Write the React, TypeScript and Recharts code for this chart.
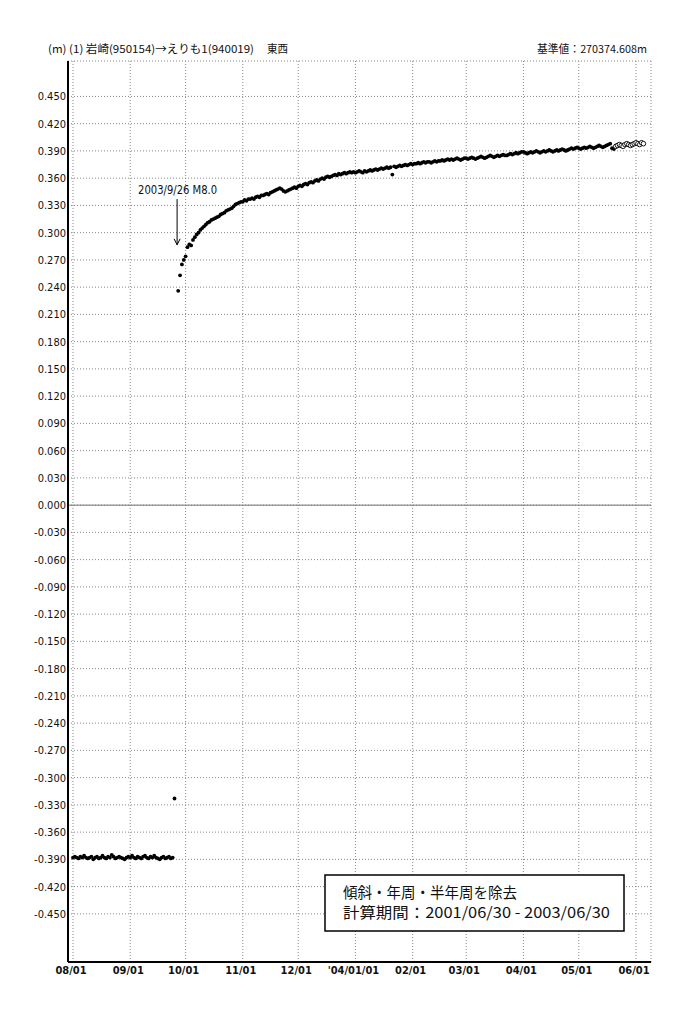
import React from "react";
import {
  ScatterChart,
  Scatter,
  XAxis,
  YAxis,
  CartesianGrid,
  ReferenceLine,
  ReferenceDot,
} from "recharts";

// days are counted from 2003-08-01
const BASE = Date.UTC(2003, 7, 1);
const DAY = 86400000;

const TICK_DATES = [
  "2003-08-01", "2003-09-01", "2003-10-01", "2003-11-01", "2003-12-01", "2004-01-01",
  "2004-02-01", "2004-03-01", "2004-04-01", "2004-05-01", "2004-06-01",
];
const TICK_LABELS = ["08/01", "09/01", "10/01", "11/01", "12/01", "'04/01/01", "02/01", "03/01", "04/01", "05/01", "06/01"];

// before the quake, Aug 1 - Sep 24
const PRE_START = 0;
const PRE_VALUES = [
  -0.388, -0.387, -0.388, -0.389, -0.387, -0.388, -0.386, -0.388, -0.389, -0.388,
  -0.387, -0.39, -0.388, -0.387, -0.389, -0.388, -0.386, -0.388, -0.389, -0.387,
  -0.388, -0.385, -0.387, -0.389, -0.388, -0.387, -0.388, -0.389, -0.39, -0.388,
  -0.387, -0.388, -0.386, -0.388, -0.389, -0.387, -0.388, -0.389, -0.387, -0.386,
  -0.388, -0.389, -0.387, -0.388, -0.386, -0.388, -0.389, -0.39, -0.388, -0.387,
  -0.389, -0.388, -0.387, -0.389, -0.388,
];

const JUMP_DAY = 55;
const JUMP_VALUE = -0.323;

// after the quake (filled dots)
const POST_START = 57;
const POST_VALUES = [
  0.236, 0.253, 0.265, 0.27, 0.274, 0.284, 0.287, 0.286, 0.292, 0.295,
  0.298, 0.3, 0.303, 0.305, 0.307, 0.309, 0.311, 0.312, 0.314, 0.315,
  0.316, 0.317, 0.318, 0.32, 0.321, 0.322, 0.324, 0.325, 0.326, 0.327,
  0.329, 0.331, 0.332, 0.333, 0.334, 0.334, 0.336, 0.335, 0.337, 0.337,
  0.338, 0.337, 0.339, 0.34, 0.339, 0.341, 0.341, 0.342, 0.343, 0.342,
  0.344, 0.345, 0.346, 0.347, 0.348, 0.349, 0.348, 0.346, 0.345, 0.346,
  0.347, 0.348, 0.349, 0.35, 0.349, 0.351, 0.352, 0.351, 0.353, 0.354,
  0.353, 0.355, 0.356, 0.355, 0.357, 0.358, 0.357, 0.359, 0.36, 0.359,
  0.361, 0.362, 0.361, 0.362, 0.363, 0.364, 0.363, 0.365, 0.364, 0.365,
  0.366, 0.365, 0.366, 0.367, 0.366, 0.367, 0.366, 0.367, 0.368, 0.367,
  0.366, 0.368, 0.367, 0.368, 0.369, 0.368, 0.369, 0.37, 0.369, 0.37,
  0.371, 0.37, 0.371, 0.372, 0.371, 0.372, 0.364, 0.373, 0.372, 0.373,
  0.374, 0.373, 0.374, 0.375, 0.374, 0.375, 0.376, 0.375, 0.376, 0.376,
  0.377, 0.376, 0.377, 0.378, 0.377, 0.378, 0.378, 0.377, 0.378, 0.379,
  0.378, 0.379, 0.379, 0.38, 0.379, 0.38, 0.381, 0.38, 0.381, 0.38,
  0.381, 0.382, 0.381, 0.38, 0.381, 0.382, 0.382, 0.381, 0.382, 0.383,
  0.382, 0.381, 0.382, 0.383, 0.384, 0.383, 0.382, 0.383, 0.384, 0.385,
  0.384, 0.383, 0.384, 0.385, 0.384, 0.385, 0.386, 0.385, 0.385, 0.386,
  0.387, 0.386, 0.387, 0.388, 0.387, 0.388, 0.389, 0.389, 0.388, 0.387,
  0.388, 0.389, 0.388, 0.389, 0.39, 0.389, 0.388, 0.389, 0.39, 0.389,
  0.39, 0.391, 0.39, 0.389, 0.39, 0.391, 0.39, 0.391, 0.392, 0.391,
  0.39, 0.391, 0.392, 0.393, 0.392, 0.393, 0.394, 0.393, 0.392, 0.393,
  0.394, 0.393, 0.394, 0.395, 0.394, 0.393, 0.394, 0.395, 0.396, 0.395,
  0.394, 0.395, 0.396, 0.397, 0.398, 0.393, 0.392,
];

// latest (open circles)
const OPEN_START = 294;
const OPEN_VALUES = [
  0.395, 0.396, 0.397, 0.396, 0.395, 0.397, 0.398, 0.397,
  0.396, 0.397, 0.398, 0.399, 0.398, 0.397, 0.399, 0.398,
];

const QUAKE_X = 56.4;
const ARROW_TOP = 0.337;
const ARROW_TIP = 0.2866;

const xTicks = TICK_DATES.map((d) => (Date.parse(d) - BASE) / DAY);
const yTicks = Array.from({ length: 31 }, (_, i) => +(-0.45 + 0.03 * i).toFixed(3));

const filled = [
  ...PRE_VALUES.map((y, i) => ({ x: PRE_START + i, y })),
  { x: JUMP_DAY, y: JUMP_VALUE },
  ...POST_VALUES.map((y, i) => ({ x: POST_START + i, y })),
];
const open = OPEN_VALUES.map((y, i) => ({ x: OPEN_START + i, y }));

const NARROW = "'Liberation Sans Narrow', 'DejaVu Sans Condensed', 'Arial Narrow', sans-serif";
const JP = "'Noto Sans CJK JP', 'Noto Sans', sans-serif";

const XTick = (p: any) => {
  const i = xTicks.indexOf(p.payload.value);
  return (
    <text x={p.x - 2} y={p.y} dy={10} textAnchor="middle" fontFamily={NARROW} fontSize={11} fontWeight="bold" fill="#111">
      {TICK_LABELS[i]}
    </text>
  );
};

const YTick = (p: any) => (
  <text x={p.x} y={p.y} dy={4} textAnchor="end" fontFamily={NARROW} fontSize={11} fill="#111">
    {p.payload.value.toFixed(3)}
  </text>
);

export default function App() {
  return (
    <div style={{ position: "absolute", left: 0, top: 0, width: 683, height: 1017, background: "#fff" }}>
      <ScatterChart width={683} height={1017} margin={{ top: 61, right: 32, bottom: 0, left: 0 }}>
        <CartesianGrid stroke="#888" strokeDasharray="1 2" />
        <XAxis
          dataKey="x"
          type="number"
          domain={[-2.7, 313.1]}
          ticks={xTicks}
          allowDataOverflow
          axisLine={{ stroke: "#000", strokeWidth: 2 }}
          tickLine={false}
          tickSize={0}
          tickMargin={2}
          tick={XTick}
          interval={0}
          height={55}
        />
        <XAxis xAxisId="top" orientation="top" type="number" domain={[0, 1]} tick={false} tickLine={false} height={0} axisLine={{ stroke: "#444", strokeWidth: 1.5 }} />
        <YAxis
          dataKey="y"
          type="number"
          domain={[-0.503, 0.489]}
          ticks={yTicks}
          allowDataOverflow
          axisLine={{ stroke: "#000", strokeWidth: 2 }}
          tickLine={false}
          tickSize={0}
          tickMargin={2}
          tick={YTick}
          interval={0}
          width={68}
        />
        <YAxis yAxisId="right" orientation="right" type="number" domain={[0, 1]} tick={false} tickLine={false} width={0} axisLine={{ stroke: "#000", strokeWidth: 2 }} />
        <ReferenceLine y={0} stroke="#777" strokeWidth={1} />
        <Scatter
          data={filled}
          isAnimationActive={false}
          shape={(p: any) => <circle cx={p.cx} cy={p.cy} r={1.9} fill="#000" />}
        />
        <Scatter
          data={open}
          isAnimationActive={false}
          shape={(p: any) => <circle cx={p.cx} cy={p.cy} r={2.3} fill="#fff" stroke="#000" strokeWidth={0.9} />}
        />
        <ReferenceLine
          segment={[{ x: QUAKE_X, y: ARROW_TOP }, { x: QUAKE_X, y: ARROW_TIP }]}
          stroke="#000"
          strokeWidth={1}
        />
        <ReferenceDot
          x={QUAKE_X}
          y={ARROW_TIP}
          r={0}
          shape={(p: any) => (
            <path d={`M${p.cx - 3},${p.cy - 6} L${p.cx},${p.cy} L${p.cx + 3},${p.cy - 6}`} fill="none" stroke="#000" strokeWidth={1} />
          )}
        />
        <ReferenceDot
          x={QUAKE_X}
          y={ARROW_TOP}
          r={0}
          shape={(p: any) => (
            <text x={p.cx - 39} y={p.cy - 5} fontFamily={NARROW} fontSize={12} textLength={79} lengthAdjust="spacingAndGlyphs" fill="#111">
              2003/9/26 M8.0
            </text>
          )}
        />
      </ScatterChart>
      <svg width={683} height={1017} style={{ position: "absolute", left: 0, top: 0, pointerEvents: "none" }}>
        <text x={48} y={53} fontFamily={JP} fontSize={11} textLength={206} lengthAdjust="spacingAndGlyphs" fill="#111">
          (m) (1) 岩崎(950154)→えりも1(940019)
        </text>
        <text x={267} y={53} fontFamily={JP} fontSize={11} textLength={21} lengthAdjust="spacingAndGlyphs" fill="#111">
          東西
        </text>
        <text x={537} y={53} fontFamily={JP} fontSize={11} textLength={110} lengthAdjust="spacingAndGlyphs" fill="#111">
          基準値：270374.608m
        </text>
        <rect x={325} y={875} width={299} height={56} fill="#fff" stroke="#000" strokeWidth={1.5} />
        <text x={343} y={898} fontFamily={JP} fontSize={15} textLength={174} lengthAdjust="spacingAndGlyphs" fill="#111">
          傾斜・年周・半年周を除去
        </text>
        <text x={343} y={918} fontFamily={JP} fontSize={15} textLength={267} lengthAdjust="spacingAndGlyphs" fill="#111">
          計算期間：2001/06/30 - 2003/06/30
        </text>
      </svg>
    </div>
  );
}
